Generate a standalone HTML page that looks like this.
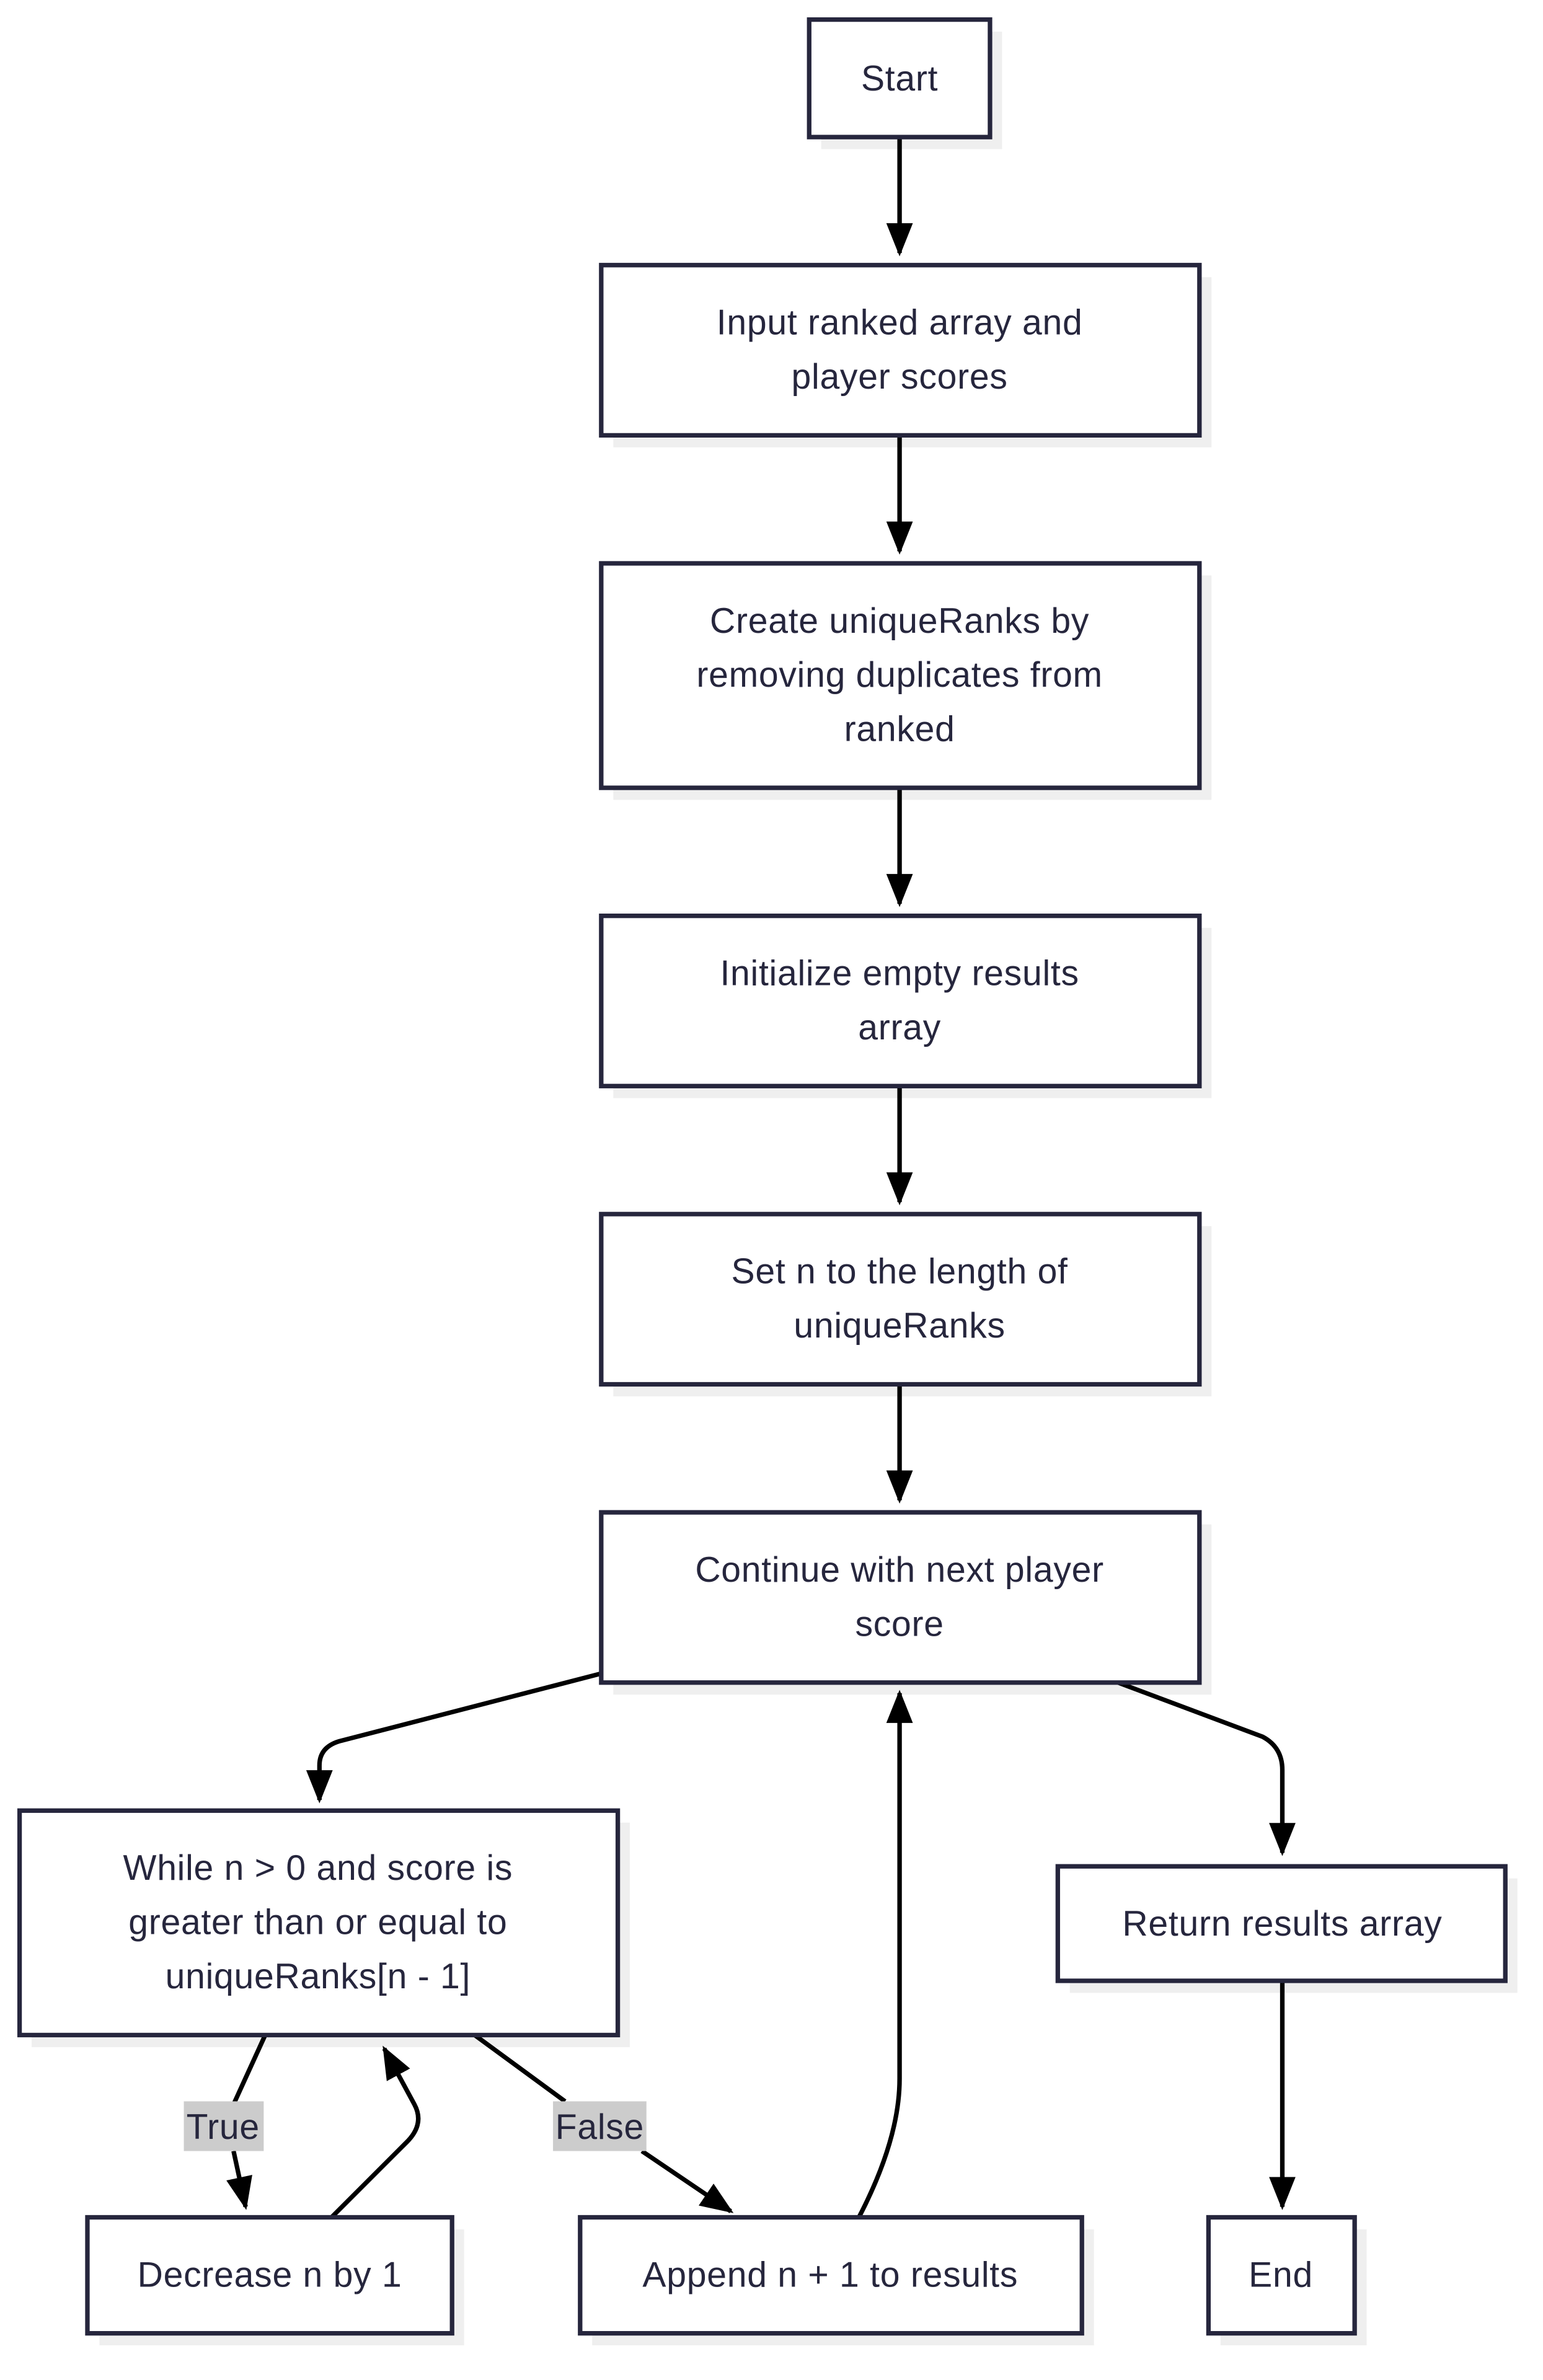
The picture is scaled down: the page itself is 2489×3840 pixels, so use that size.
<!DOCTYPE html>
<html><head><meta charset="utf-8"><style>
html,body{margin:0;padding:0;background:#fff;}
svg{display:block;}
text{font-family:"Liberation Sans",sans-serif;font-size:23.5px;fill:#26263d;text-anchor:middle;letter-spacing:0.3px;}
.b{fill:#fff;stroke:#26263d;stroke-width:3;}
.s{fill:#efefef;}
.e{fill:none;stroke:#000;stroke-width:3;}
</style></head><body>
<svg width="2489" height="3840" viewBox="0 0 1024 1580" preserveAspectRatio="none" xmlns="http://www.w3.org/2000/svg">
<defs>
<marker id="m" viewBox="0 0 10 10" refX="9" refY="5" markerWidth="22" markerHeight="22" markerUnits="userSpaceOnUse" orient="auto"><path d="M0,1L10,5L0,9z" fill="#000"/></marker></defs>
<rect class="s" x="545" y="21" width="120" height="78"/>
<rect class="s" x="407" y="184" width="397" height="113"/>
<rect class="s" x="407" y="382" width="397" height="149"/>
<rect class="s" x="407" y="616" width="397" height="113"/>
<rect class="s" x="407" y="814" width="397" height="113"/>
<rect class="s" x="407" y="1012" width="397" height="113"/>
<rect class="s" x="21" y="1210" width="397" height="149"/>
<rect class="s" x="710" y="1247" width="297" height="76"/>
<rect class="s" x="66" y="1480" width="242" height="77"/>
<rect class="s" x="393" y="1480" width="333" height="77"/>
<rect class="s" x="810" y="1480" width="97" height="77"/>
<path class="e" marker-end="url(#m)" d="M597,91V168"/>
<path class="e" marker-end="url(#m)" d="M597,289V366"/>
<path class="e" marker-end="url(#m)" d="M597,523V600"/>
<path class="e" marker-end="url(#m)" d="M597,721V798"/>
<path class="e" marker-end="url(#m)" d="M597,919V996"/>
<path class="e" marker-end="url(#m)" d="M399,1111L225,1156Q212,1160 212,1172V1195"/>
<path class="e" marker-end="url(#m)" d="M742,1117L838,1153Q851,1160 851,1175V1230"/>
<path class="e" marker-end="url(#m)" d="M176,1351L155,1397M155,1428L163,1465"/>
<path class="e" marker-end="url(#m)" d="M220,1472L270,1422Q282,1410 275,1397L255,1360"/>
<path class="e" marker-end="url(#m)" d="M315,1351L375,1395M426,1428L485,1468"/>
<path class="e" marker-end="url(#m)" d="M570,1472Q597,1420 597,1380V1124"/>
<path class="e" marker-end="url(#m)" d="M851,1315V1465"/>
<rect x="122" y="1395" width="53" height="33" fill="#ccc"/>
<text x="148" y="1420">True</text>
<rect x="367" y="1395" width="62" height="33" fill="#ccc"/>
<text x="398" y="1420">False</text>
<rect class="b" x="537" y="13" width="120" height="78"/>
<text x="597" y="60">Start</text>
<rect class="b" x="399" y="176" width="397" height="113"/>
<text x="597" y="222">Input ranked array and</text><text x="597" y="258">player scores</text>
<rect class="b" x="399" y="374" width="397" height="149"/>
<text x="597" y="420">Create uniqueRanks by</text><text x="597" y="456">removing duplicates from</text><text x="597" y="492">ranked</text>
<rect class="b" x="399" y="608" width="397" height="113"/>
<text x="597" y="654">Initialize empty results</text><text x="597" y="690">array</text>
<rect class="b" x="399" y="806" width="397" height="113"/>
<text x="597" y="852">Set n to the length of</text><text x="597" y="888">uniqueRanks</text>
<rect class="b" x="399" y="1004" width="397" height="113"/>
<text x="597" y="1050">Continue with next player</text><text x="597" y="1086">score</text>
<rect class="b" x="13" y="1202" width="397" height="149"/>
<text x="211" y="1248">While n &gt; 0 and score is</text><text x="211" y="1284">greater than or equal to</text><text x="211" y="1320">uniqueRanks[n - 1]</text>
<rect class="b" x="702" y="1239" width="297" height="76"/>
<text x="851" y="1285">Return results array</text>
<rect class="b" x="58" y="1472" width="242" height="77"/>
<text x="179" y="1518">Decrease n by 1</text>
<rect class="b" x="385" y="1472" width="333" height="77"/>
<text x="551" y="1518">Append n + 1 to results</text>
<rect class="b" x="802" y="1472" width="97" height="77"/>
<text x="850" y="1518">End</text>
</svg>
</body></html>
